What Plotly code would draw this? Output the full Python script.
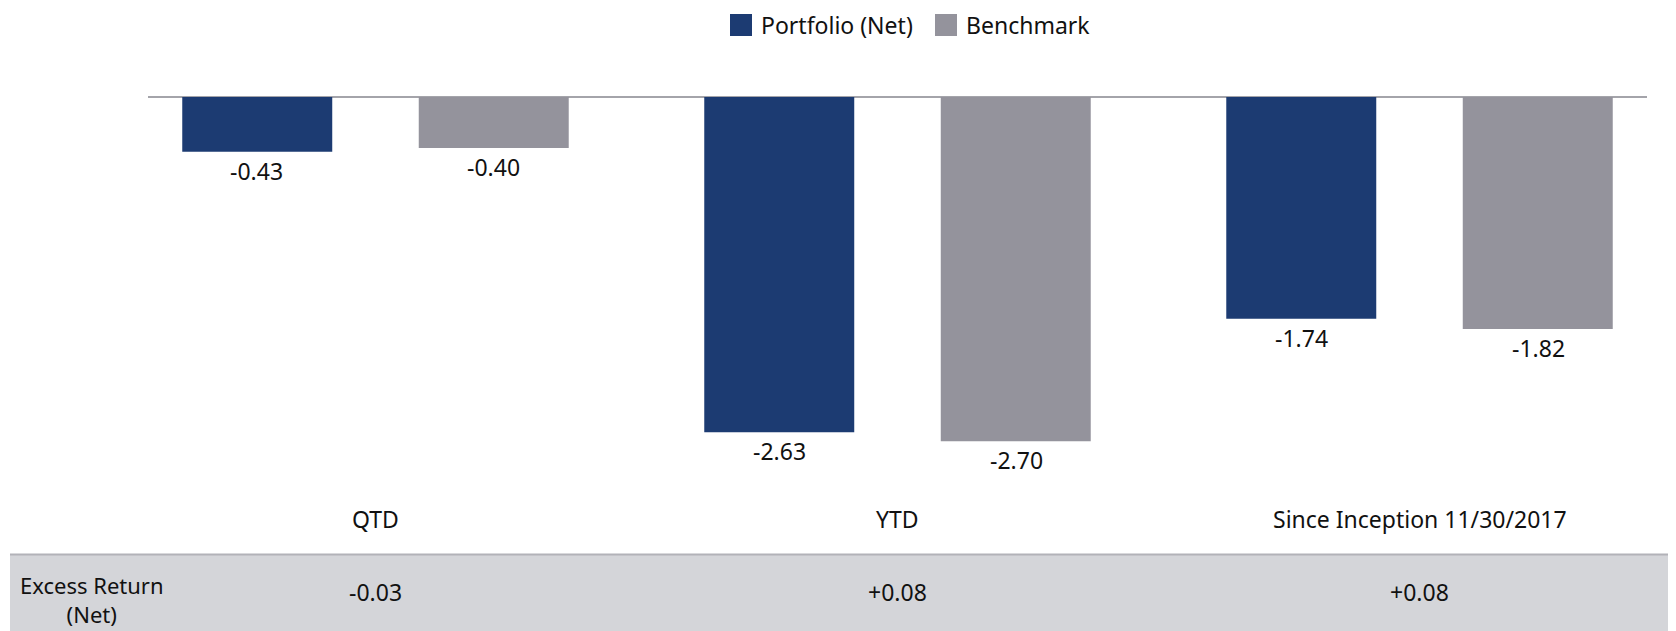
import plotly.graph_objects as go

# ---- data ----
categories = ["QTD", "YTD", "Since Inception 11/30/2017"]
series_names = ["Portfolio (Net)", "Benchmark"]
portfolio = [-0.43, -2.63, -1.74]
benchmark = [-0.40, -2.70, -1.82]
excess_label = "Excess Return<br>(Net)"
excess_return = ["-0.03", "+0.08", "+0.08"]

# ---- style ----
OFF = 8                      # page body margin of the html page
W, H = 1676 - OFF, 631 - OFF  # figure size so that it fills the window
ML, MR = 148 - OFF, 29
PW = W - ML - MR
C_PORT = "#1c3b72"
C_BENCH = "#94939c"
C_BAND = "#d4d5d9"
FONT = "Noto Sans"
TXT = "#111111"
FS = 23


def px_x(page_px):
    return (page_px - OFF - ML) / PW


def px_y(page_py):
    return 1 - (page_py - OFF) / H


fig = go.Figure()
fig.add_trace(go.Bar(x=categories, y=portfolio, name=series_names[0],
                     marker=dict(color=C_PORT, line=dict(width=0)), showlegend=False))
fig.add_trace(go.Bar(x=categories, y=benchmark, name=series_names[1],
                     marker=dict(color=C_BENCH, line=dict(width=0)), showlegend=False))

annotations = []
# value labels below each bar
for vals, xs in ((portfolio, -118.5), (benchmark, 118.5)):
    for c, v in zip(categories, vals):
        annotations.append(dict(x=c, y=v, xref="x", yref="y", text=f"{v:.2f}",
                                showarrow=False, xshift=xs, yshift=-19,
                                yanchor="middle", xanchor="center",
                                font=dict(family=FONT, size=FS, color=TXT)))
# category labels
for c in categories:
    annotations.append(dict(x=c, y=px_y(519), xref="x", yref="paper", text=c,
                            showarrow=False, yanchor="middle", xanchor="center",
                            font=dict(family=FONT, size=FS, color=TXT)))
# excess return row
for c, t in zip(categories, excess_return):
    annotations.append(dict(x=c, y=px_y(592), xref="x", yref="paper", text=t,
                            showarrow=False, yanchor="middle", xanchor="center",
                            font=dict(family=FONT, size=FS, color=TXT)))
annotations.append(dict(x=px_x(92), y=px_y(599), xref="paper", yref="paper",
                        text=excess_label, showarrow=False, yanchor="middle",
                        xanchor="center", align="center",
                        font=dict(family=FONT, size=22, color=TXT)))

# custom legend
shapes = []
legend_items = [(series_names[0], C_PORT, 730), (series_names[1], C_BENCH, 935)]
for name, col, x0 in legend_items:
    shapes.append(dict(type="rect", xref="paper", yref="paper",
                       x0=px_x(x0), x1=px_x(x0 + 22), y0=px_y(36), y1=px_y(14),
                       fillcolor=col, line=dict(width=0)))
    annotations.append(dict(x=px_x(x0 + 29), y=px_y(25), xref="paper", yref="paper",
                            text=name, showarrow=False, xanchor="left", yanchor="middle",
                            font=dict(family=FONT, size=FS, color=TXT)))

# table band
shapes.append(dict(type="rect", xref="paper", yref="paper", layer="below",
                   x0=px_x(10), x1=px_x(1680), y0=px_y(640), y1=px_y(554),
                   fillcolor=C_BAND, line=dict(width=0)))
shapes.append(dict(type="line", xref="paper", yref="paper",
                   x0=px_x(10), x1=px_x(1680), y0=px_y(554.5), y1=px_y(554.5),
                   line=dict(color="#b2b2b8", width=2)))

scale = 127.5  # px per unit
y_top = (97 - OFF) / scale
y_bot = y_top - H / scale

fig.update_layout(
    width=W, height=H,
    margin=dict(l=ML, r=MR, t=0, b=0, pad=0),
    paper_bgcolor="white", plot_bgcolor="white",
    barmode="group", bargap=0.0939, bargroupgap=0.3658,
    xaxis=dict(type="category", range=[-0.4358, 2.4358], showticklabels=False,
               showgrid=False, zeroline=False, showline=False, ticks="", fixedrange=True),
    yaxis=dict(range=[y_bot, y_top], showticklabels=False, showgrid=False,
               zeroline=True, zerolinecolor="#a4a4aa", zerolinewidth=2,
               showline=False, ticks="", fixedrange=True),
    annotations=annotations,
    shapes=shapes,
    showlegend=False,
    font=dict(family=FONT, color=TXT),
)

fig.write_html("out.html")
